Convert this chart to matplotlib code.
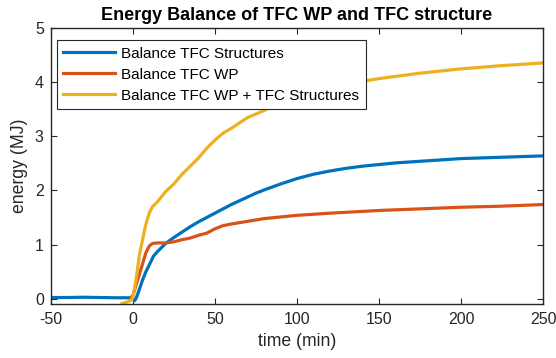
import matplotlib
matplotlib.use("Agg")
import matplotlib.pyplot as plt

plt.rcParams['font.family'] = ['Liberation Sans', 'DejaVu Sans']
plt.rcParams['axes.unicode_minus'] = False

# Balance TFC Structures
t_struct = [-50, -40, -30, -20, -10, -5, 0, 1, 2, 4, 6, 8, 10, 12.5, 15, 20, 25, 30, 35, 40,
            45, 50, 55, 60, 65, 70, 75, 80, 90, 100, 110, 120, 130, 140, 150, 160, 170,
            180, 190, 200, 210, 220, 230, 240, 250]
e_struct = [0.02, 0.02, 0.025, 0.02, 0.015, 0.015, 0.015, -0.04, 0.0, 0.17, 0.35, 0.5, 0.62,
            0.78, 0.87, 1.02, 1.13, 1.23, 1.33, 1.42, 1.5, 1.58, 1.66, 1.74, 1.81, 1.88,
            1.95, 2.01, 2.12, 2.22, 2.3, 2.36, 2.41, 2.45, 2.48, 2.51, 2.53, 2.55, 2.57,
            2.59, 2.6, 2.61, 2.62, 2.63, 2.64]

# Balance TFC WP
t_wp = [-1, 0, 2, 4, 6, 8, 10, 12, 15, 20, 25, 30, 35, 40, 45, 50, 55, 60, 70, 80, 90,
        100, 120, 150, 175, 200, 225, 250]
e_wp = [0.03, 0.05, 0.25, 0.45, 0.65, 0.85, 0.97, 1.02, 1.03, 1.03, 1.05, 1.09, 1.12, 1.17,
        1.21, 1.29, 1.35, 1.38, 1.43, 1.48, 1.51, 1.54, 1.58, 1.63, 1.66, 1.69, 1.71, 1.74]

# Balance TFC WP + TFC Structures
t_sum = [-6.5, -3, -1, 0, 2, 4, 6, 8, 10, 12, 15, 20, 25, 30, 35, 40, 45, 50, 55, 60, 70,
         80, 90, 100, 110, 120, 130, 140, 150, 175, 200, 225, 250]
e_sum = [-0.09, -0.06, -0.03, 0.02, 0.35, 0.8, 1.1, 1.38, 1.58, 1.7, 1.79, 1.98, 2.12, 2.3,
         2.45, 2.6, 2.78, 2.93, 3.06, 3.15, 3.35, 3.48, 3.64, 3.75, 3.83, 3.9, 3.96, 4.02,
         4.07, 4.17, 4.25, 4.31, 4.36]

labels = ['Balance TFC Structures', 'Balance TFC WP', 'Balance TFC WP + TFC Structures']
colors = ['#0072BD', '#D95319', '#EDB120']
x_ticks = [-50, 0, 50, 100, 150, 200, 250]
y_ticks = [0, 1, 2, 3, 4, 5]

fig = plt.figure(figsize=(5.56, 3.58), dpi=100)
ax = fig.add_axes([50.7 / 556, 1 - 304 / 358, 492.6 / 556, 275.7 / 358])

ax.plot(t_struct, e_struct, color=colors[0], lw=2.3, label=labels[0])
ax.plot(t_wp, e_wp, color=colors[1], lw=2.3, label=labels[1])
ax.plot(t_sum, e_sum, color=colors[2], lw=2.3, label=labels[2])

ax.set_xlim(-50, 250)
ax.set_ylim(-0.1, 5)
ax.set_xticks(x_ticks)
ax.set_yticks(y_ticks)
dark = '#262626'
ax.tick_params(direction='in', top=True, right=True, length=4, width=0.8,
               labelsize=11.5, colors=dark)
ax.tick_params(axis='x', pad=6)
ax.tick_params(axis='y', pad=5)
for s in ax.spines.values():
    s.set_color(dark)
    s.set_linewidth(1.0)

ax.set_xlabel('time (min)', fontsize=12.7, color=dark, labelpad=4)
ax.set_ylabel('energy (MJ)', fontsize=12.7, color=dark, labelpad=5)
ax.set_title('Energy Balance of TFC WP and TFC structure', fontsize=13, fontweight='bold',
             color='black', pad=6)

leg = ax.legend(loc='upper left', bbox_to_anchor=(0.012, 0.958), borderaxespad=0,
                fontsize=11, handlelength=3.4, handletextpad=0.35, labelspacing=0.45,
                borderpad=0.45, fancybox=False, framealpha=1, edgecolor=dark)
leg.get_frame().set_linewidth(0.8)
for txt in leg.get_texts():
    txt.set_color('black')

fig.savefig('out.png', dpi=100)
